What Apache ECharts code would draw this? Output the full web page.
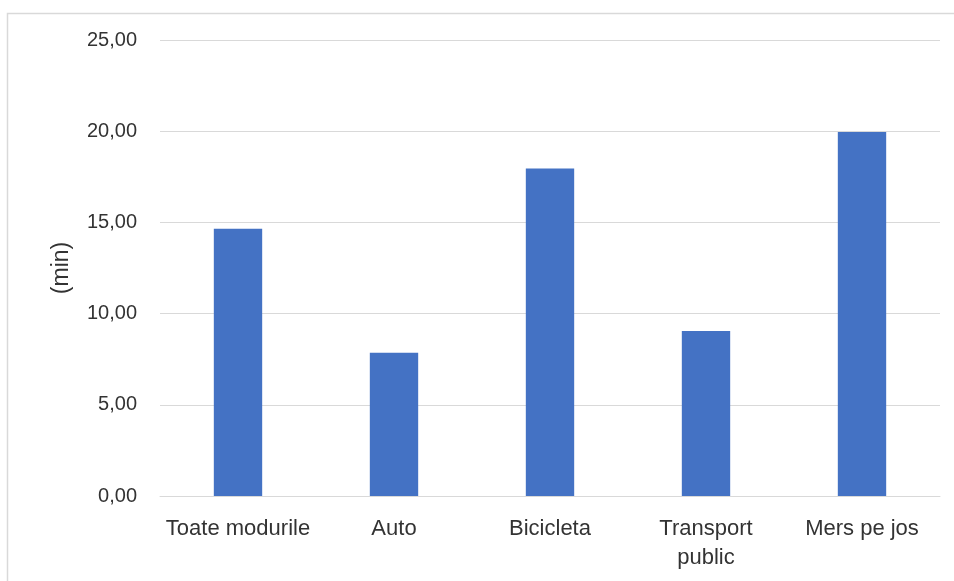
<!DOCTYPE html>
<html>
<head>
<meta charset="utf-8">
<script src="https://cdn.jsdelivr.net/npm/echarts@6/dist/echarts.min.js"></script>
<style>
  html, body { margin: 0; padding: 0; background: #ffffff; }
  #chart { width: 954px; height: 581px; }
</style>
</head>
<body>
<div id="chart"></div>
<script>
// Average travel time per transport mode (minutes)
const categories = ['Toate modurile', 'Auto', 'Bicicleta', 'Transport\npublic', 'Mers pe jos'];
const minutes = [14.65, 7.85, 17.95, 9.05, 19.95];
const yTicks = [0, 5, 10, 15, 20, 25];

const FONT = '"Liberation Sans", Arial, sans-serif';
const TEXT = '#333333';

const chart = echarts.init(document.getElementById('chart'), null, { renderer: 'canvas' });
chart.setOption({
  animation: false,
  backgroundColor: '#ffffff',
  graphic: [{
    type: 'rect',
    left: 5, top: 11,
    shape: { width: 990, height: 620 },
    style: { fill: 'none', stroke: '#d9d9d9', lineWidth: 1.5 },
    silent: true
  }],
  grid: { left: 160, right: 14, top: 40, bottom: 85, containLabel: false },
  xAxis: {
    type: 'category',
    data: categories,
    axisLine: { show: true, lineStyle: { color: '#d9d9d9', width: 1 } },
    axisTick: { show: false },
    axisLabel: {
      color: TEXT, fontFamily: FONT, fontSize: 22, lineHeight: 29, margin: 18,
      interval: 0
    }
  },
  yAxis: {
    type: 'value',
    min: yTicks[0], max: yTicks[yTicks.length - 1], interval: 5,
    name: '(min)',
    nameLocation: 'middle',
    nameGap: 87,
    nameRotate: 90,
    nameTextStyle: { color: TEXT, fontFamily: FONT, fontSize: 23 },
    axisLine: { show: false },
    axisTick: { show: false },
    splitLine: { lineStyle: { color: '#d9d9d9', width: 1 } },
    axisLabel: {
      color: TEXT, fontFamily: FONT, fontSize: 20, margin: 23,
      formatter: v => v.toFixed(2).replace('.', ',')
    }
  },
  series: [{
    type: 'bar',
    data: minutes,
    barWidth: '31%',
    itemStyle: { color: '#4472C4' }
  }]
});
</script>
</body>
</html>
